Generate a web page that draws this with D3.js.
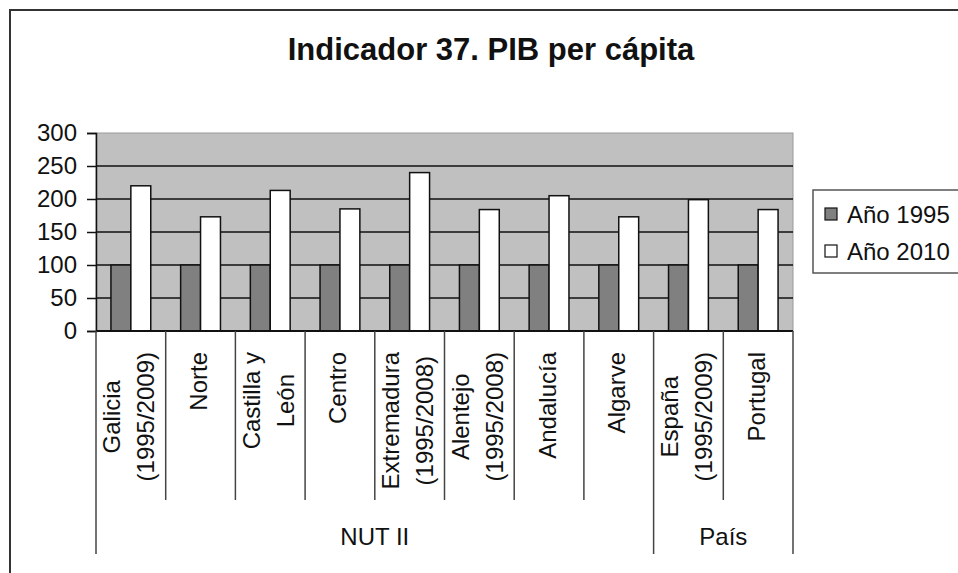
<!DOCTYPE html>
<html>
<head>
<meta charset="utf-8">
<script src="https://cdn.jsdelivr.net/npm/d3@7"></script>
<style>
  body { margin: 0; background: #fff; }
  svg { display: block; font-family: "Liberation Sans", Arial, sans-serif; }
</style>
</head>
<body>
<svg id="chart" width="958" height="573"></svg>
<script>
// data
const categories = [
  ["Galicia", "(1995/2009)"],
  ["Norte"],
  ["Castilla y", "León"],
  ["Centro"],
  ["Extremadura", "(1995/2008)"],
  ["Alentejo", "(1995/2008)"],
  ["Andalucía"],
  ["Algarve"],
  ["España", "(1995/2009)"],
  ["Portugal"]
];
const series = ["Año 1995", "Año 2010"];
const values1995 = [100, 100, 100, 100, 100, 100, 100, 100, 100, 100];
const values2010 = [220, 173, 213, 185, 240, 184, 205, 173, 199, 184];
const groupLabels = ["NUT II", "País"];
const groupSpans = [8, 2];
const yTicks = [0, 50, 100, 150, 200, 250, 300];

const svg = d3.select("#chart");
const plot = { left: 96, right: 793, top: 133, bottom: 331 };
const colors = { "Año 1995": "#808080", "Año 2010": "#ffffff" };

// outer chart frame
svg.append("rect")
  .attr("x", 10).attr("y", 10).attr("width", 1000).attr("height", 600)
  .attr("fill", "none").attr("stroke", "#333").attr("stroke-width", 2);

svg.append("text")
  .attr("x", 491).attr("y", 60)
  .attr("text-anchor", "middle")
  .attr("font-size", 31).attr("font-weight", "bold").attr("fill", "#111")
  .text("Indicador 37. PIB per cápita");

const idx = d3.range(categories.length);
const x0 = d3.scaleBand().domain(idx).range([plot.left, plot.right]);
const x1 = d3.scaleBand().domain(series).range([0, x0.bandwidth()])
  .paddingInner(0).paddingOuter(0.75);
const y = d3.scaleLinear().domain([0, 300]).range([plot.bottom, plot.top]);

// plot background
svg.append("rect")
  .attr("x", plot.left).attr("y", plot.top)
  .attr("width", plot.right - plot.left).attr("height", plot.bottom - plot.top)
  .attr("fill", "#c0c0c0").attr("stroke", "#9a9a9a");

// gridlines
svg.append("g")
  .selectAll("line")
  .data(yTicks.filter(d => d > 0 && d < 300))
  .join("line")
  .attr("x1", plot.left).attr("x2", plot.right)
  .attr("y1", d => y(d)).attr("y2", d => y(d))
  .attr("stroke", "#111").attr("stroke-width", 1.5);

// bars
const rows = idx.map(i => ({ i, vals: [values1995[i], values2010[i]] }));
svg.append("g")
  .selectAll("g")
  .data(rows)
  .join("g")
  .attr("transform", d => `translate(${x0(d.i)},0)`)
  .selectAll("rect")
  .data(d => d.vals.map((v, k) => ({ key: series[k], v })))
  .join("rect")
  .attr("x", d => x1(d.key))
  .attr("y", d => y(d.v))
  .attr("width", x1.bandwidth())
  .attr("height", d => y(0) - y(d.v))
  .attr("fill", d => colors[d.key])
  .attr("stroke", "#111").attr("stroke-width", 1.5);

// y axis
const yAxis = svg.append("g")
  .attr("transform", `translate(${plot.left},0)`)
  .call(d3.axisLeft(y).tickValues(yTicks).tickSize(9).tickPadding(10));
yAxis.selectAll("text").attr("font-size", 24).attr("fill", "#111")
  .attr("font-family", "Liberation Sans, Arial, sans-serif");
yAxis.selectAll("line,path").attr("stroke", "#111").attr("stroke-width", 1.5);

// x axis base line
svg.append("line")
  .attr("x1", plot.left).attr("x2", plot.right)
  .attr("y1", y(0)).attr("y2", y(0))
  .attr("stroke", "#111").attr("stroke-width", 2);

// category dividers
const groupEdges = [0];
groupSpans.forEach(s => groupEdges.push(groupEdges[groupEdges.length - 1] + s));
const edgeX = i => i < categories.length ? x0(i) : plot.right;
svg.append("g")
  .selectAll("line")
  .data(d3.range(categories.length + 1))
  .join("line")
  .attr("x1", edgeX).attr("x2", edgeX)
  .attr("y1", y(0))
  .attr("y2", i => groupEdges.includes(i) ? 554 : 500)
  .attr("stroke", "#444").attr("stroke-width", 1.5);

// category labels, rotated
const labelTop = 352, lineH = 34;
const lab = svg.append("g")
  .selectAll("g")
  .data(idx)
  .join("g");
lab.each(function (i) {
  const g = d3.select(this);
  const lines = categories[i];
  const texts = g.selectAll("text").data(lines).join("text")
    .attr("font-size", 24).attr("fill", "#111")
    .attr("text-anchor", "middle")
    .attr("dominant-baseline", "central")
    .text(d => d);
  const maxLen = d3.max(texts.nodes(), n => n.getComputedTextLength());
  const cx = x0(i) + x0.bandwidth() / 2 - 2;
  const cy = labelTop + maxLen / 2;
  texts.attr("transform", (d, k) => {
    const off = (k - (lines.length - 1) / 2) * lineH;
    return `translate(${cx + off},${cy}) rotate(-90)`;
  });
});

// group labels
svg.append("g")
  .selectAll("text")
  .data(groupLabels)
  .join("text")
  .attr("x", (d, k) => (edgeX(groupEdges[k]) + edgeX(groupEdges[k + 1])) / 2)
  .attr("y", 536)
  .attr("dominant-baseline", "central")
  .attr("text-anchor", "middle")
  .attr("font-size", 24).attr("fill", "#111")
  .text(d => d);

// legend
const legend = svg.append("g").attr("transform", "translate(813,190)");
legend.append("rect")
  .attr("width", 220).attr("height", 83)
  .attr("fill", "#fff").attr("stroke", "#555").attr("stroke-width", 1.5);
const items = legend.selectAll("g.item")
  .data(series)
  .join("g")
  .attr("class", "item")
  .attr("transform", (d, k) => `translate(12,${24 + k * 37})`);
items.append("rect")
  .attr("x", 0).attr("y", -6).attr("width", 12).attr("height", 12)
  .attr("fill", d => colors[d]).attr("stroke", "#111").attr("stroke-width", 1.2);
items.append("text")
  .attr("x", 22).attr("y", 0)
  .attr("dominant-baseline", "central")
  .attr("font-size", 24).attr("fill", "#111")
  .text(d => d);
</script>
</body>
</html>
